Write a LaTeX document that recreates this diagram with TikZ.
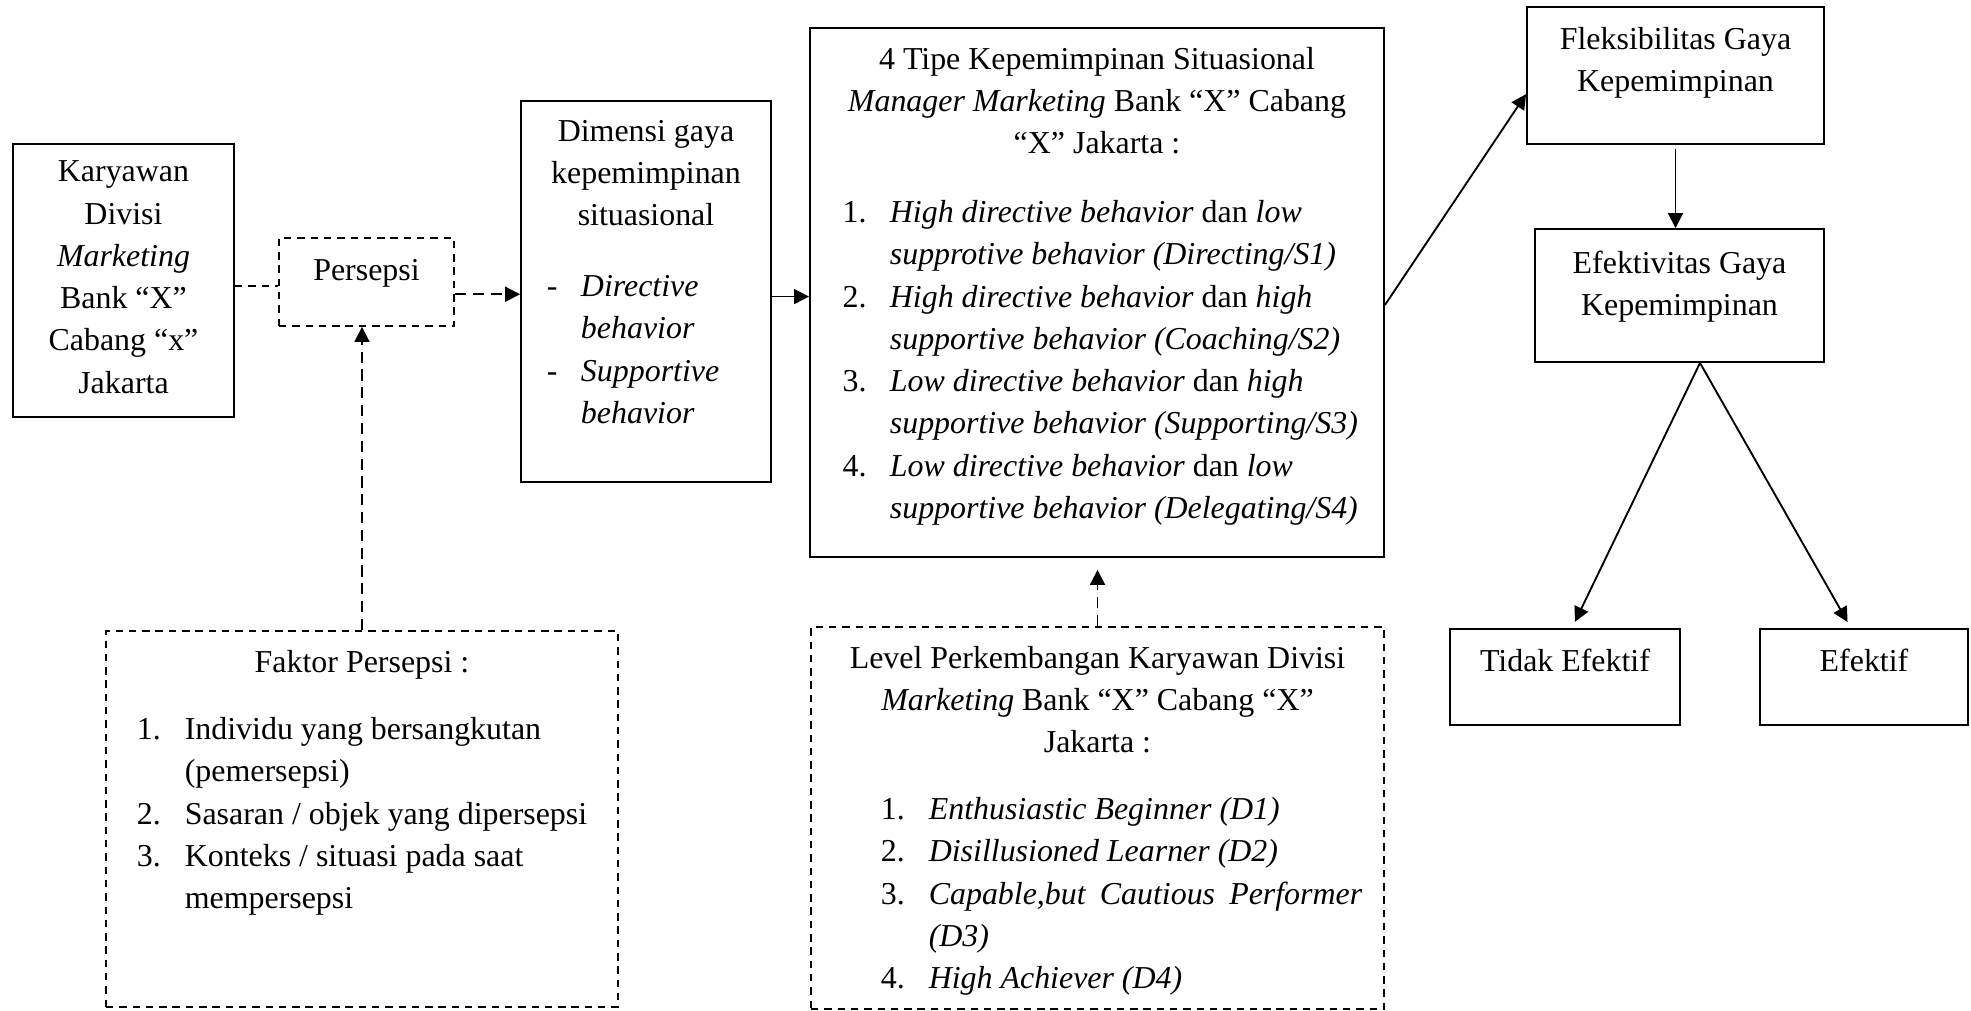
\documentclass[tikz,border=0pt]{standalone}
\usepackage{fontspec}
\setmainfont{Liberation Serif}
\usetikzlibrary{positioning, fit, calc, arrows.meta}

\begin{document}
\begin{tikzpicture}
		[x=0.376pt, y=-0.376pt, line width=0.7pt,
		font=\fontsize{12pt}{15.9pt}\selectfont,
		box/.style={draw, inner sep=0pt},
		dln/.style={dash pattern=on 2.8pt off 2.2pt},
		dbox/.style={box, dln},
		txt/.style={anchor=north, align=center, inner sep=0pt},
		lst/.style={anchor=north west, inner sep=0pt},
		arr/.style={-{Triangle[length=5.6pt, width=5.6pt]}},
		darr/.style={arr, dash pattern=on 4.2pt off 2.5pt}]
		\useasboundingbox (0,0) rectangle (1971,1011);
		
		\node (K) [box, fit={(13,144) (234,417)}] {};
		\node[txt] (Kt) at (123.5,160) {Karyawan\\ Divisi\\ \textit{Marketing}\\ Bank “X”\\ Cabang “x”\\ Jakarta};
		\node (P) [dbox, fit={(279,238) (454,326)}] {};
		\node[txt] (Pt) at (366.5,258) {Persepsi};
		
		\node (D) [box, fit={(521,101) (771,482)}] {};
		\node[txt] (Dt) at (646,119) {Dimensi gaya\\ kepemimpinan\\ situasional};
		\node[lst] (Dl) at (546,266) {\begin{tabular}{@{}p{12.8pt}@{}l@{}}
			- & \textit{Directive}\\
			  & \textit{behavior}\\
			- & \textit{Supportive}\\
			  & \textit{behavior}
		\end{tabular}};
		
		\node (T) [box, fit={(810,28) (1384,557)}] {};
		\node[txt] (Tt) at (1097,46) {4 Tipe Kepemimpinan Situasional\\ \textit{Manager Marketing} Bank “X” Cabang\\ “X” Jakarta :};
		\node[lst] (Tl) at (841.6,192) {\begin{tabular}{@{}p{17.8pt}@{}l@{}}
			1. & \textit{High directive behavior} dan \textit{low}\\
			   & \textit{supprotive behavior (Directing/S1)}\\
			2. & \textit{High directive behavior} dan \textit{high}\\
			   & \textit{supportive behavior (Coaching/S2)}\\
			3. & \textit{Low directive behavior} dan \textit{high}\\
			   & \textit{supportive behavior (Supporting/S3)}\\
			4. & \textit{Low directive behavior} dan \textit{low}\\
			   & \textit{supportive behavior (Delegating/S4)}
		\end{tabular}};
		
		\node (F) [box, fit={(1527,7) (1824,144)}] {};
		\node[txt] (Ft) at (1675.5,26) {Fleksibilitas Gaya\\ Kepemimpinan};
		\node (E) [box, fit={(1535,229) (1824,362)}] {};
		\node[txt] (Et) at (1679.5,250) {Efektivitas Gaya\\ Kepemimpinan};
		\node (TE) [box, fit={(1450,629) (1680,725)}] {};
		\node[txt] (TEt) at (1565,648) {Tidak Efektif};
		\node (EF) [box, fit={(1760,629) (1968,725)}] {};
		\node[txt] (EFt) at (1864,648) {Efektif};
		
		\node (FP) [dbox, fit={(106,631) (618,1007)}] {};
		\node[txt] (FPt) at (362,649) {Faktor Persepsi :};
		\node[lst] (FPl) at (136,709) {\begin{tabular}{@{}p{18pt}@{}l@{}}
			1. & Individu yang bersangkutan\\
			   & (pemersepsi)\\
			2. & Sasaran / objek yang dipersepsi\\
			3. & Konteks / situasi pada saat\\
			   & mempersepsi
		\end{tabular}};
		
		\node (L) [dbox, fit={(811,627) (1384,1009)}] {};
		\node[txt] (Lt) at (1097.5,645) {Level Perkembangan Karyawan Divisi\\ \textit{Marketing} Bank “X” Cabang “X”\\ Jakarta :};
		\node[lst] (Ll) at (880,789) {\begin{tabular}{@{}p{18pt}@{}l@{}}
			1. & \textit{Enthusiastic Beginner (D1)}\\
			2. & \textit{Disillusioned Learner (D2)}\\
			3. & \makebox[163pt][s]{\textit{Capable,but Cautious Performer}}\\
			   & \textit{(D3)}\\
			4. & \textit{High Achiever (D4)}
		\end{tabular}};
		
		% hubungan
		\draw[dln] ([yshift=-2pt]K.east) -- ([yshift=-2pt]K.east -| P.west);
		\draw[darr] ([yshift=-4.6pt]P.east) -- ([yshift=-4.6pt]P.east -| D.west);
		\draw[arr] ([yshift=-1.9pt]D.east) -- ([yshift=-1.9pt]D.east -| T.west);
		\draw[arr] ([yshift=-4.7pt]T.east) -- ([yshift=-7pt]F.west);
		\draw[arr, shorten <=1.5pt] (F.south) -- (F.south |- E.north);
		\coordinate (split) at ([xshift=7.7pt]E.south);
		\draw[arr, shorten >=2.6pt] (split) -- ([xshift=2.6pt]TE.north);
		\draw[arr, shorten >=2.6pt] (split) -- ([xshift=-4.9pt]EF.north);
		\draw[darr] (FP.north) -- (FP.north |- P.south);
		\draw[darr, shorten >=4.5pt] (L.north) -- (L.north |- T.south);
	\end{tikzpicture}
\end{document}
